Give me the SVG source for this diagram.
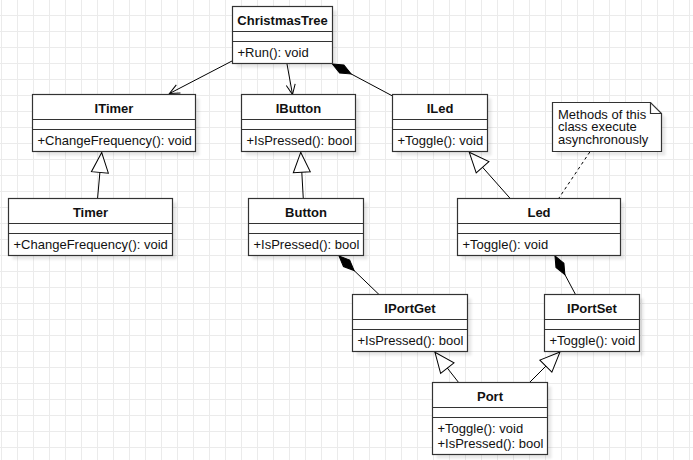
<svg xmlns="http://www.w3.org/2000/svg" width="693" height="460" viewBox="0 0 693 460">
<style>
.box{fill:#fff;stroke:#333;stroke-width:1.2}
.sh{fill:#000;fill-opacity:0.09;filter:url(#blur)}
.sep{stroke:#333;stroke-width:1.2}
.t{font-family:"Liberation Sans",Arial,sans-serif;font-size:13px;fill:#111}
.h{font-weight:bold;text-anchor:middle}
.c{fill:none;stroke:#000;stroke-width:1}
</style>
<defs>
<pattern id="grid" x="0" y="0" width="16" height="16" patternUnits="userSpaceOnUse">
<path d="M1.5,0 V16 M0,15.5 H16" stroke="#ebebeb" stroke-width="1" fill="none"/>
</pattern>
<filter id="blur" x="-10%" y="-10%" width="120%" height="120%"><feGaussianBlur stdDeviation="1.2"/></filter>
<marker id="open" markerUnits="userSpaceOnUse" markerWidth="20" markerHeight="20" refX="0" refY="0" orient="auto" overflow="visible">
<path d="M-10,-4.5 L0,0 L-10,4.5" fill="none" stroke="#000" stroke-width="1"/>
</marker>
<marker id="tri" markerUnits="userSpaceOnUse" markerWidth="30" markerHeight="30" refX="0" refY="0" orient="auto" overflow="visible">
<path d="M0,0 L-20,-8.5 L-20,8.5 Z" fill="#fff" stroke="#000" stroke-width="1"/>
</marker>
<marker id="dia" markerUnits="userSpaceOnUse" markerWidth="30" markerHeight="30" refX="0" refY="0" orient="auto" overflow="visible">
<path d="M0,0 L10.5,-4.5 L21,0 L10.5,4.5 Z" fill="#000" stroke="#000" stroke-width="1"/>
</marker>
</defs>
<rect width="693" height="460" fill="#fff"/>
<rect width="693" height="460" fill="url(#grid)"/>

<g id="connectors">
<path class="c" d="M232,61 L169.5,93.5" marker-end="url(#open)"/>
<path class="c" d="M287,64 L292.5,94.5" marker-end="url(#open)"/>
<path class="c" d="M332.5,64 L393.5,96.5" marker-start="url(#dia)"/>
<path class="c" d="M97.5,199 L101.7,152.5" marker-end="url(#tri)"/>
<path class="c" d="M303.3,199 L300.7,152.3" marker-end="url(#tri)"/>
<path class="c" d="M510.7,199 L469.3,152.3" marker-end="url(#tri)"/>
<path class="c" d="M339,256 L379,294.5" marker-start="url(#dia)"/>
<path class="c" d="M555,256 L575.5,294.5" marker-start="url(#dia)"/>
<path class="c" d="M459,383 L435,352.3" marker-end="url(#tri)"/>
<path class="c" d="M529,383 L560,352" marker-end="url(#tri)"/>
<path class="c" d="M589.8,152 L558.3,199" stroke-dasharray="3,3"/>
</g>

<g id="ChristmasTree">
<rect class="sh" x="236.5" y="10.5" width="100" height="57"/>
<rect class="box" x="232.5" y="6.5" width="100" height="57"/>
<path class="sep" d="M232.5,31.5 H332.5 M232.5,41.5 H332.5"/>
<text class="t h" x="282.5" y="24.5">ChristmasTree</text>
<text class="t" x="237.5" y="56.5">+Run(): void</text>
</g>

<g id="ITimer">
<rect class="sh" x="36.5" y="98.5" width="163" height="57"/>
<rect class="box" x="32.5" y="94.5" width="163" height="57"/>
<path class="sep" d="M32.5,119.5 H195.5 M32.5,129.5 H195.5"/>
<text class="t h" x="114" y="112.5">ITimer</text>
<text class="t" x="37.5" y="144.5">+ChangeFrequency(): void</text>
</g>

<g id="IButton">
<rect class="sh" x="245.5" y="98.5" width="114" height="57"/>
<rect class="box" x="241.5" y="94.5" width="114" height="57"/>
<path class="sep" d="M241.5,119.5 H355.5 M241.5,129.5 H355.5"/>
<text class="t h" x="298.5" y="112.5">IButton</text>
<text class="t" x="246.5" y="144.5">+IsPressed(): bool</text>
</g>

<g id="ILed">
<rect class="sh" x="396.5" y="98.5" width="95" height="57"/>
<rect class="box" x="392.5" y="94.5" width="95" height="57"/>
<path class="sep" d="M392.5,119.5 H487.5 M392.5,129.5 H487.5"/>
<text class="t h" x="440" y="112.5">ILed</text>
<text class="t" x="397.5" y="144.5">+Toggle(): void</text>
</g>

<g id="Note">
<path class="sh" d="M556.5,106.5 H654.5 L665.5,117.5 V155.5 H556.5 Z"/>
<path class="box" d="M552.5,102.5 H650.5 L661.5,113.5 V151.5 H552.5 Z"/>
<path class="sep" d="M650.5,102.5 V113.5 H661.5" fill="none"/>
<text class="t" x="558" y="118.5">Methods of this</text>
<text class="t" x="558" y="131">class execute</text>
<text class="t" x="558" y="143.5">asynchronously</text>
</g>

<g id="Timer">
<rect class="sh" x="12.5" y="202.5" width="164" height="57"/>
<rect class="box" x="8.5" y="198.5" width="164" height="57"/>
<path class="sep" d="M8.5,223.5 H172.5 M8.5,233.5 H172.5"/>
<text class="t h" x="90.5" y="216.5">Timer</text>
<text class="t" x="13.5" y="248.5">+ChangeFrequency(): void</text>
</g>

<g id="Button">
<rect class="sh" x="252.5" y="202.5" width="115" height="57"/>
<rect class="box" x="248.5" y="198.5" width="115" height="57"/>
<path class="sep" d="M248.5,223.5 H363.5 M248.5,233.5 H363.5"/>
<text class="t h" x="306" y="216.5">Button</text>
<text class="t" x="253.5" y="248.5">+IsPressed(): bool</text>
</g>

<g id="Led">
<rect class="sh" x="461.5" y="202.5" width="163" height="57"/>
<rect class="box" x="457.5" y="198.5" width="163" height="57"/>
<path class="sep" d="M457.5,223.5 H620.5 M457.5,233.5 H620.5"/>
<text class="t h" x="539" y="216.5">Led</text>
<text class="t" x="462.5" y="248.5">+Toggle(): void</text>
</g>

<g id="IPortGet">
<rect class="sh" x="356.5" y="298.5" width="115" height="57"/>
<rect class="box" x="352.5" y="294.5" width="115" height="57"/>
<path class="sep" d="M352.5,319.5 H467.5 M352.5,329.5 H467.5"/>
<text class="t h" x="410" y="312.5">IPortGet</text>
<text class="t" x="357.5" y="344.5">+IsPressed(): bool</text>
</g>

<g id="IPortSet">
<rect class="sh" x="548.5" y="298.5" width="95" height="57"/>
<rect class="box" x="544.5" y="294.5" width="95" height="57"/>
<path class="sep" d="M544.5,319.5 H639.5 M544.5,329.5 H639.5"/>
<text class="t h" x="592" y="312.5">IPortSet</text>
<text class="t" x="549.5" y="344.5">+Toggle(): void</text>
</g>

<g id="Port">
<rect class="sh" x="436.5" y="386.5" width="115" height="72"/>
<rect class="box" x="432.5" y="382.5" width="115" height="72"/>
<path class="sep" d="M432.5,407.5 H547.5 M432.5,417.5 H547.5"/>
<text class="t h" x="490" y="400.5">Port</text>
<text class="t" x="437.5" y="432.5">+Toggle(): void</text>
<text class="t" x="437.5" y="447.5">+IsPressed(): bool</text>
</g>
</svg>
